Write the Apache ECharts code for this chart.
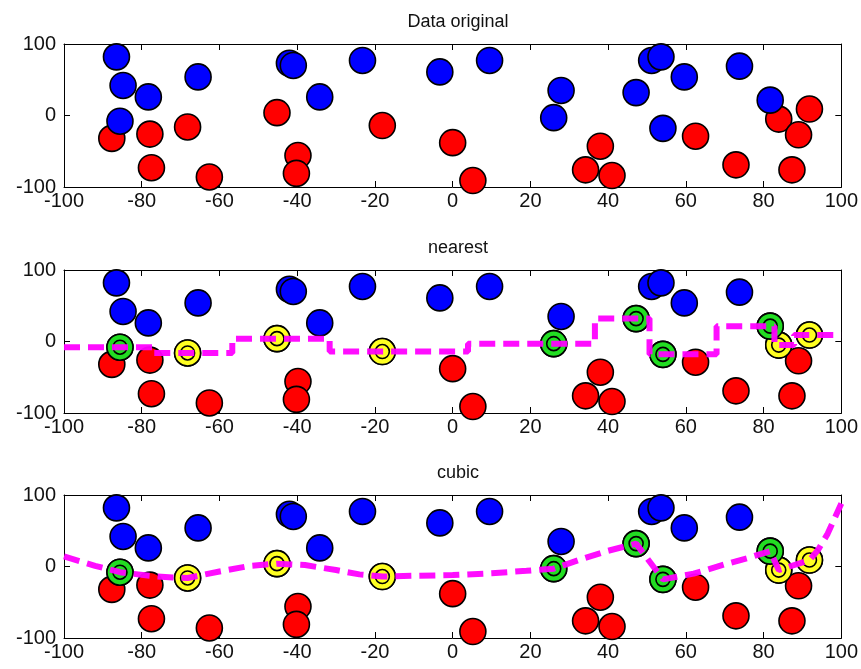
<!DOCTYPE html>
<html>
<head>
<meta charset="utf-8">
<script src="https://cdn.jsdelivr.net/npm/echarts@6/dist/echarts.min.js"></script>
<style>
html,body{margin:0;padding:0;background:#fff;}
#chart{width:861px;height:669px;}
</style>
</head>
<body>
<div id="chart"></div>
<script>
// ---- data ----
const titles = ['Data original', 'nearest', 'cubic'];
const xTicks = [-100, -80, -60, -40, -20, 0, 20, 40, 60, 80, 100];
const yTicks = [-100, 0, 100];

const blueX = [-86.5, -84.8, -78.3, -85.6, -65.5, -42, -41, -34.2, -23.2, -3.3, 9.5, 27.9, 26, 47.2, 51.2, 53.6, 59.6, 54.1, 73.8, 81.7];
const blueY = [82, 42, 26, -8, 54, 73, 70, 26, 77, 61, 77, 35, -3, 32, 77, 82, 54, -18, 69, 21.5];

const redX = [-87.7, -77.9, -68.2, -77.5, -62.6, -45.2, -39.8, -40.2, -18.1, 0, 5.2, 38, 34.2, 41, 62.5, 72.9, 83.9, 91.8, 89, 87.3];
const redY = [-32, -26, -16, -73, -86, 4, -56, -81, -14, -38, -91, -43, -76, -84, -29, -69, -5, 9, -27, -76];

// highlighted points (support points) in the lower two panels
const greenX = [-85.6, 26, 47.2, 54.1, 81.7];
const greenY = [-8, -3, 32, -18, 21.5];
const yellowX = [-68.2, -45.2, -18.1, 83.9, 91.8];
const yellowY = [-16, 4, -14, -5, 9];

// "nearest" line: step levels (drawn as mid-point steps)
const nearestX = [-100, -85.6, -68.2, -45.2, -18.1, 26, 47.2, 54.1, 81.7, 83.9, 91.8, 100];
const nearestY = [-8, -8, -16, 4, -14, -3, 32, -18, 21.5, -5, 9, 9];

// "cubic" line: points
const cubicX = [-100, -92, -85.6, -78, -72, -68.2, -60, -52, -45.2, -38, -30, -24, -18.1, -10, 0, 10, 19, 26, 33, 40, 47.2, 54.1, 62, 70, 76, 81.7, 83.9, 91.8, 94, 96.5, 100];
const cubicY = [14, 1, -8, -13, -15.5, -16, -7, 1, 4, 2, -5, -11, -14, -13, -12, -9.5, -6, -3, 10, 22, 32, -18, -10, 3, 12, 21.5, -5, 9, 23, 46, 88];

// ---- layout ----
const gridTops = [44, 270, 495];
const gridH = 143;
const FONT = 'Liberation Sans, Arial, sans-serif';

function pairs(xs, ys) { return xs.map((x, i) => [x, ys[i]]); }

const grids = [], xAxes = [], yAxes = [], series = [], titleArr = [];
gridTops.forEach((top, g) => {
  grids.push({left: 64, top: top, width: 778, height: gridH, show: false});
  titleArr.push({text: titles[g], left: 453, top: top - 36, textAlign: 'center',
    textStyle: {fontFamily: FONT, fontSize: 18, fontWeight: 'normal', color: '#111'}});
  const line = {show: true, onZero: false, lineStyle: {color: '#000', width: 1}};
  const tick = {show: true, inside: true, length: 6, lineStyle: {color: '#000', width: 1}};
  const xBase = {gridIndex: g, type: 'value', min: xTicks[0], max: xTicks[xTicks.length - 1],
    interval: xTicks[1] - xTicks[0], splitLine: {show: false}, axisLine: line, axisTick: tick};
  xAxes.push(Object.assign({}, xBase, {position: 'bottom',
    axisLabel: {margin: 4, fontFamily: FONT, fontSize: 20, color: '#111'}}));
  xAxes.push(Object.assign({}, xBase, {position: 'top', axisLabel: {show: false}}));
  const yBase = {gridIndex: g, type: 'value', min: yTicks[0], max: yTicks[yTicks.length - 1],
    interval: yTicks[1] - yTicks[0], splitLine: {show: false}, axisLine: line, axisTick: tick};
  yAxes.push(Object.assign({}, yBase, {position: 'left',
    axisLabel: {margin: 8, fontFamily: FONT, fontSize: 20, color: '#111'}}));
  yAxes.push(Object.assign({}, yBase, {position: 'right', axisLabel: {show: false}}));

  const xi = g * 2, yi = g * 2;
  const dot = (data, color, size, z) => ({type: 'scatter', xAxisIndex: xi, yAxisIndex: yi,
    data: data, symbol: 'circle', symbolSize: size, z: z,
    itemStyle: {color: color, borderColor: '#000', borderWidth: 1.6, opacity: 1},
    emphasis: {disabled: true}});
  series.push(dot(pairs(redX, redY), '#ff0000', 26, 2));
  series.push(dot(pairs(blueX, blueY), '#0000ff', 26, 3));
  if (g > 0) {
    series.push(dot(pairs(yellowX, yellowY), '#ffff22', 26, 4));
    series.push(dot(pairs(yellowX, yellowY), '#ffff22', 14, 5));
    series.push(dot(pairs(greenX, greenY), '#22dd22', 26, 6));
    series.push(dot(pairs(greenX, greenY), '#22dd22', 14, 7));
    const lx = g === 1 ? nearestX : cubicX;
    const ly = g === 1 ? nearestY : cubicY;
    series.push({type: 'line', xAxisIndex: xi, yAxisIndex: yi, data: pairs(lx, ly),
      step: g === 1 ? 'middle' : false, showSymbol: false, z: 8,
      lineStyle: {color: '#ff00ff', width: 6, type: [16, 8], cap: 'butt', opacity: 0.95}});
  }
});

const chart = echarts.init(document.getElementById('chart'), null, {renderer: 'canvas'});
chart.setOption({
  animation: false,
  backgroundColor: '#fff',
  title: titleArr,
  grid: grids,
  xAxis: xAxes,
  yAxis: yAxes,
  series: series
});
</script>
</body>
</html>
